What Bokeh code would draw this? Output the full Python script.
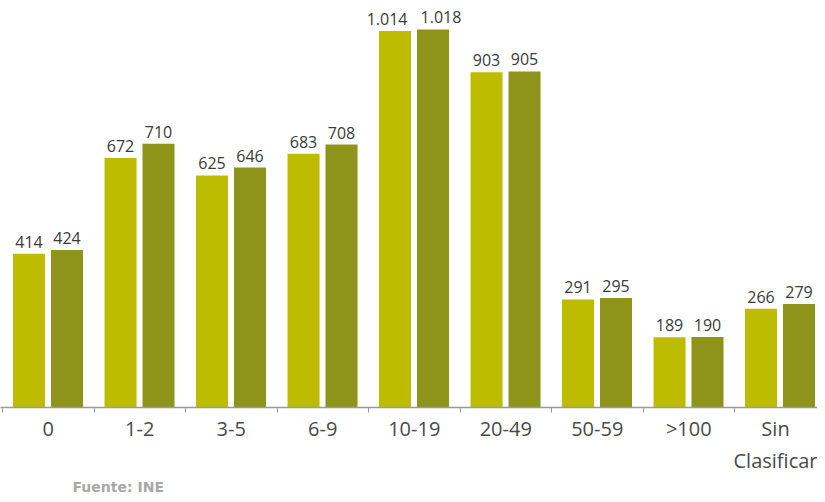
from bokeh.plotting import figure
from bokeh.models import ColumnDataSource, FixedTicker, Range1d, Title
from bokeh.core.properties import value
from bokeh.embed import file_html
from bokeh.resources import INLINE

# ---- data ----
categories = ["0", "1-2", "3-5", "6-9", "10-19", "20-49", "50-59", ">100", "Sin\nClasificar"]
serie_a = [414, 672, 625, 683, 1014, 903, 291, 189, 266]
serie_b = [424, 710, 646, 708, 1018, 905, 295, 190, 279]
source_text = "Fuente: INE"

COLOR_A = "#BDBC00"
COLOR_B = "#8D9419"

def fmt(v):
    return f"{v:,}".replace(",", ".")

idx = list(range(len(categories)))
# wide (4-digit) labels are pushed apart so they do not collide
src_a = ColumnDataSource(dict(x=[i + 0.29 for i in idx], y=serie_a, lab=[fmt(v) for v in serie_a],
                              dx=[-8 if v >= 1000 else 0 for v in serie_a]))
src_b = ColumnDataSource(dict(x=[i + 0.705 for i in idx], y=serie_b, lab=[fmt(v) for v in serie_b],
                              dx=[8 if v >= 1000 else 0 for v in serie_b]))

W, H = 817, 494
YMAX = 1096
p = figure(width=W, height=H, output_backend="svg", toolbar_location=None,
           x_range=Range1d(-2 / 91.5, (W - 2) / 91.5), y_range=Range1d(0, YMAX),
           y_axis_location=None, min_border_left=0, min_border_right=0,
           min_border_top=0, min_border_bottom=0)
p.outline_line_color = None
p.xgrid.visible = False
p.ygrid.visible = False
p.background_fill_color = "white"
p.border_fill_color = "white"

p.vbar(x="x", top="y", width=0.35, bottom=0, source=src_a, fill_color=COLOR_A, line_color=None)
p.vbar(x="x", top="y", width=0.35, bottom=0, source=src_b, fill_color=COLOR_B, line_color=None)

for s in (src_a, src_b):
    p.text(x="x", y="y", text="lab", source=s, x_offset="dx", text_align="center",
           text_baseline="alphabetic", y_offset=-12, text_font=value("Open Sans"),
           text_font_size="16px", text_color="#3a3a3a")

ax = p.xaxis[0]
ax.axis_label = None
ax.ticker = FixedTicker(ticks=[i + 0.5 for i in idx], minor_ticks=list(range(len(categories) + 1)))
ax.major_label_overrides = {i + 0.5: c for i, c in zip(idx, categories)}
ax.major_tick_line_color = None
ax.major_tick_out = 0
ax.minor_tick_line_color = "#9a9a9a"
ax.minor_tick_out = 5
ax.minor_tick_in = 0
ax.axis_line_color = "#9a9a9a"
ax.axis_line_width = 1.5
ax.major_label_standoff = 2
ax.major_label_text_font = "Open Sans"
ax.major_label_text_font_size = "20px"
ax.major_label_text_color = "#4a4a4a"

p.add_layout(Title(text=source_text, align="left", offset=72, standoff=0,
                   text_font="DejaVu Sans", text_font_size="14px", text_font_style="bold",
                   text_color="#a8a8a8"), "below")

open("out.html", "w").write(file_html(p, INLINE))
